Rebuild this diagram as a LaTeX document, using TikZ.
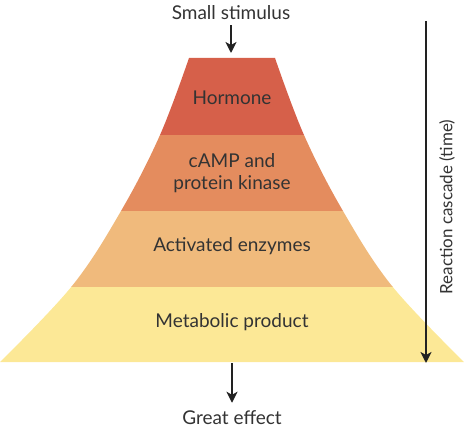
\documentclass[tikz,border=0pt]{standalone}
\usepackage{fontspec}
\setmainfont{Lato}
\usetikzlibrary{arrows.meta}
\definecolor{bandA}{HTML}{D6604A}
\definecolor{bandB}{HTML}{E48C5E}
\definecolor{bandC}{HTML}{F0BA7C}
\definecolor{bandD}{HTML}{FCE896}
\definecolor{txt}{HTML}{333333}
\definecolor{arr}{HTML}{222222}
\tikzset{
  lbl/.style={text=txt, font=\fontsize{19}{22}\selectfont, align=center, inner sep=0pt},
  arrowline/.style={draw=arr, line width=1.8pt, -{Stealth[length=11pt,width=11pt,inset=3pt]}}
}
\begin{document}
\begin{tikzpicture}[x=1pt,y=-1pt]
\useasboundingbox (0,0) rectangle (464,428);
\begin{scope}
\clip plot[smooth, tension=0.6] coordinates {(189,58) (160,135) (121,211) (72,286) (0,362)}
  -- plot[smooth, tension=0.6] coordinates {(464,362) (392,286) (343,211) (304,135) (275,58)} -- cycle;
\fill[bandA] (0,50) rectangle (464,135.5);
\fill[bandB] (0,135.5) rectangle (464,210.5);
\fill[bandD] (0,286) rectangle (464,363);
\fill[bandC] (0,210.5) rectangle (464,286.5);
\end{scope}
\node[lbl] (hormone) at (232,98) {Hormone};
\node[lbl] (camp) at (232,173) {cAMP and\\protein kinase};
\node[lbl] (enz) at (232,246) {Activated enzymes};
\node[lbl] (meta) at (232,322) {Metabolic product};
\node[lbl] (stim) at (231,13) {Small stimulus};
\node[lbl] (great) at (232,418) {Great effect};
\node[lbl, rotate=90, font=\fontsize{17}{20}\selectfont] (casc) at (447,207) {Reaction cascade (time)};
\coordinate (topin) at (231,53);
\coordinate (botout) at (232,363);
\coordinate (cs) at (426,21);
\coordinate (ce) at (426,363);
\draw[arrowline] ([yshift=-5pt]stim.south) -- (topin);
\draw[arrowline] (botout) -- ([yshift=8pt]great.north);
\draw[arrowline] (cs) -- (ce);
\end{tikzpicture}
\end{document}
